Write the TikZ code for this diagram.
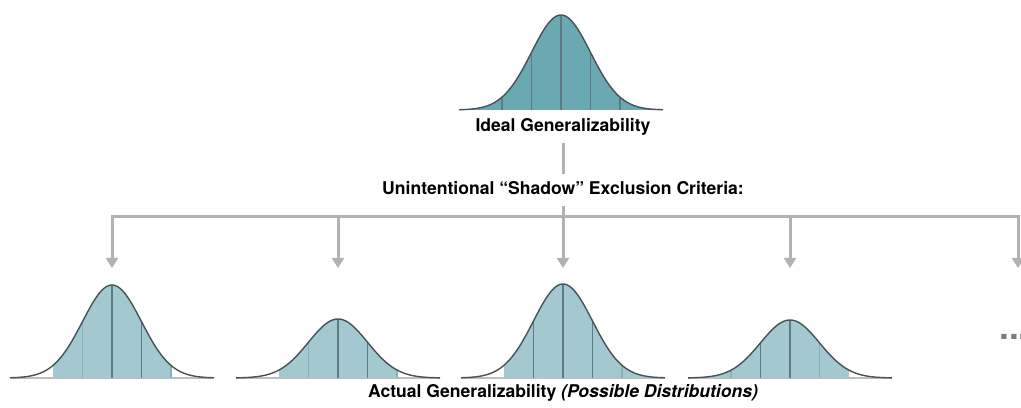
\documentclass[tikz,border=0pt]{standalone}
\usepackage{fontspec}
\setmainfont{TeX Gyre Heros}
\usetikzlibrary{arrows.meta}
\definecolor{tealdark}{RGB}{106,168,178}
\definecolor{teallight}{RGB}{164,200,208}
\definecolor{curvegray}{RGB}{72,82,86}
\definecolor{splitdarkcol}{RGB}{92,122,130}
\definecolor{splitlightcol}{RGB}{140,176,185}
\definecolor{conngray}{RGB}{178,178,178}
\definecolor{groundgray}{RGB}{190,190,190}
\begin{document}
\begin{tikzpicture}[x=0.02cm, y=-0.02cm,
    conn/.style={conngray, line width=0.06cm},
    conntip/.style={conn, -{Triangle[width=0.24cm, length=0.2cm]}},
    textlabel/.style={font=\bfseries, text height=7.5pt, text depth=2pt, inner sep=4pt},
    bellline/.style={curvegray, line width=0.8pt},
    groundline/.style={groundgray, line width=0.6pt},
    majorsplit/.style={splitdarkcol, line width=0.6pt},
    minorsplit/.style={splitlightcol, line width=0.6pt}]
  \useasboundingbox (0,0) rectangle (1021,408);

  % ideal distribution on top
  \fill[tealdark] plot[domain=-102:102, samples=120] ({561+\x}, {110-95*exp(-0.5*(\x/29.5)*(\x/29.5))}) -- cycle;
  \foreach \k in {-2,-1,0,1,2}
    \draw[majorsplit] ({561+\k*29.5},110) -- ({561+\k*29.5},{110-95*exp(-0.5*\k*\k)});
  \draw[bellline] plot[domain=-102:102, samples=120] ({561+\x}, {110-95*exp(-0.5*(\x/29.5)*(\x/29.5))});

  % the possible distributions, each with its tails cut
  \foreach \cx/\h/\a/\b in {112/93/-2/2, 338/59/-2/2, 563/94/-2/3.46, 790/58/-3.46/2} {
    \draw[groundline] ({\cx-102},378) -- ({\cx+102},378);
    \fill[teallight] plot[domain=\a*29.5:\b*29.5, samples=80] ({\cx+\x}, {378-\h*exp(-0.5*(\x/29.5)*(\x/29.5))})
      -- ({\cx+\b*29.5},378) -- ({\cx+\a*29.5},378) -- cycle;
  }
  \foreach \cx/\h/\k/\sty in {112/93/-1/minorsplit, 112/93/0/majorsplit, 112/93/1/majorsplit, 112/93/2/minorsplit,
                              338/59/-1/minorsplit, 338/59/0/majorsplit, 338/59/1/majorsplit, 338/59/2/minorsplit,
                              563/94/-1/majorsplit, 563/94/0/majorsplit, 563/94/1/majorsplit, 563/94/2/minorsplit,
                              790/58/-2/minorsplit, 790/58/-1/majorsplit, 790/58/0/majorsplit, 790/58/1/minorsplit}
    \draw[\sty] ({\cx+\k*29.5},378) -- ({\cx+\k*29.5},{378-\h*exp(-0.5*\k*\k)});
  \foreach \cx/\h in {112/93, 338/59, 563/94, 790/58}
    \draw[bellline] plot[domain=-102:102, samples=120] ({\cx+\x}, {378-\h*exp(-0.5*(\x/29.5)*(\x/29.5))});

  % labels
  \node[textlabel] (ideal) at (563,127) {Ideal Generalizability};
  \node[textlabel] (shadow) at (563,190) {Unintentional “Shadow” Exclusion Criteria:};
  \node[textlabel] (actual) at (563,393) {Actual Generalizability \textit{(Possible Distributions)}};
  \node[font=\fontsize{20}{24}\selectfont\bfseries, text={rgb,255:red,125;green,125;blue,125}, inner sep=0pt, anchor=base west] (more) at (999,340) {...};

  % branching arrows
  \foreach \n/\px in {1/112, 2/338, 3/563, 4/790, 5/1018} {
    \coordinate (b\n) at (\px,217);
    \coordinate (t\n) at (\px,268);
  }
  \draw[conn] (ideal) -- (shadow);
  \draw[conn] (shadow) -- (b3);
  \draw[conn] (b1) -- (b5);
  \draw[conntip] (b2) -- (b1) -- (t1);
  \draw[conntip] (b4) -- (b5) -- (t5);
  \foreach \n in {2,3,4}
    \draw[conntip] (b\n) -- (t\n);
\end{tikzpicture}
\end{document}
